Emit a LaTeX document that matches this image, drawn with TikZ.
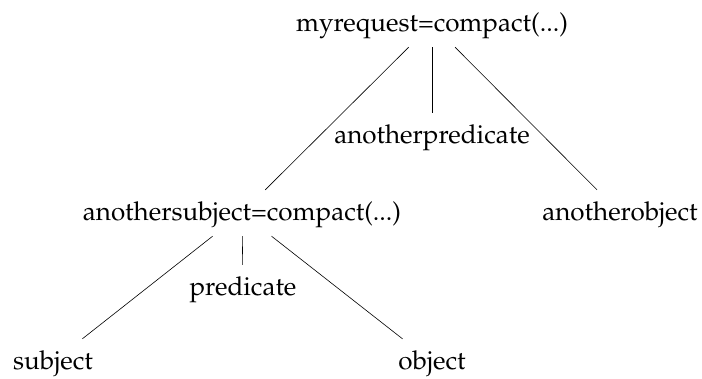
\documentclass[tikz,border=0pt]{standalone}
\usepackage[T1]{fontenc}
\usepackage{mathpazo}
\begin{document}
\begin{tikzpicture}[x=1pt,y=-1pt,
  treenode/.style={inner xsep=4pt, inner ysep=8pt, text height=22pt, text depth=8pt,
    font=\fontsize{26}{30}\selectfont},
  branch/.style={draw=black, line width=0.6pt}]
  \useasboundingbox (0,0) rectangle (702,378);
  \node[treenode] (root) at (432,24) {myrequest=compact(...)};
  \node[treenode] (apred) at (432,136) {anotherpredicate};
  \node[treenode] (asubj) at (242,213) {anothersubject=compact(...)};
  \node[treenode] (aobj) at (620,213) {anotherobject};
  \node[treenode] (pred) at (243,288) {predicate};
  \node[treenode] (subj) at (53,362) {subject};
  \node[treenode] (obj) at (432,362) {object};
  \draw[branch] (root) -- (asubj);
  \draw[branch] (root) -- (apred);
  \draw[branch] (root) -- (aobj);
  \draw[branch] (asubj) -- (subj);
  \draw[branch] (asubj) -- (pred);
  \draw[branch] (asubj) -- (obj);
\end{tikzpicture}
\end{document}
